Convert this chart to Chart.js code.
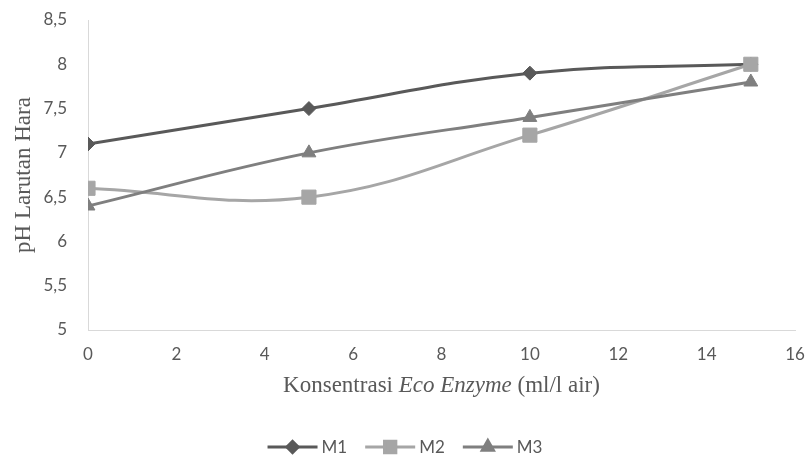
<!DOCTYPE html>
<html>
<head>
<meta charset="utf-8">
<script src="https://cdn.jsdelivr.net/npm/chart.js@4/dist/chart.umd.min.js"></script>
<style>
  html, body { margin: 0; padding: 0; background: #ffffff; }
  #wrap { width: 810px; height: 459px; position: relative; }
</style>
</head>
<body>
<div id="wrap"><canvas id="c" width="810" height="459"></canvas></div>
<script>
// Eco enzyme concentration (ml/l air) and nutrient-solution pH per treatment
const concentrations = [0, 5, 10, 15];
const m1 = [7.1, 7.5, 7.9, 8.0];
const m2 = [6.6, 6.5, 7.2, 8.0];
const m3 = [6.4, 7.0, 7.4, 7.8];
const seriesNames = ['M1', 'M2', 'M3'];

// x-axis title pieces: plain, italic, plain
const xTitleParts = [
  { text: 'Konsentrasi ', italic: false },
  { text: 'Eco Enzyme', italic: true },
  { text: ' (ml/l air)', italic: false }
];
const yTitle = 'pH Larutan Hara';

const colors = ['#595959', '#a6a6a6', '#7f7f7f'];
const pointStyles = ['rectRot', 'rect', 'triangle'];
const pointRadii = [7, 10, 8];

const toPoints = vals => concentrations.map((c, i) => ({ x: c, y: vals[i] }));
const commaNum = v => String(v).replace('.', ',');

const tickFont = { family: 'Lato, "Liberation Sans", sans-serif', size: 17 };
const serif = '"Liberation Serif", "Times New Roman", serif';
const titleSize = 23;

// Axis-title drawing with mixed upright/italic runs
const axisTitles = {
  id: 'axisTitles',
  afterDraw(chart) {
    const ctx = chart.ctx;
    const area = chart.chartArea;
    ctx.save();
    ctx.fillStyle = '#595959';
    ctx.textBaseline = 'middle';
    ctx.textAlign = 'left';
    // x title, centred under the plot
    const fontFor = p => (p.italic ? 'italic ' : '') + titleSize + 'px ' + serif;
    let total = 0;
    xTitleParts.forEach(p => { ctx.font = fontFor(p); total += ctx.measureText(p.text).width; });
    let x = (area.left + area.right) / 2 - total / 2;
    const y = 386;
    xTitleParts.forEach(p => {
      ctx.font = fontFor(p);
      ctx.fillText(p.text, x, y);
      x += ctx.measureText(p.text).width;
    });
    // y title, rotated, centred beside the plot
    ctx.font = titleSize + 'px ' + serif;
    ctx.translate(24, (area.top + area.bottom) / 2);
    ctx.rotate(-Math.PI / 2);
    ctx.textAlign = 'center';
    ctx.fillText(yTitle, 0, 0);
    ctx.restore();
  }
};

// Excel-style legend: short line with the marker in the middle, then the name
const lineLegend = {
  id: 'lineLegend',
  afterDraw(chart) {
    const ctx = chart.ctx;
    const y = 447;
    const lineLen = 50, textGap = 4, itemGap = 18;
    ctx.save();
    ctx.font = '17px Lato, "Liberation Sans", sans-serif';
    const widths = chart.data.datasets.map(d => lineLen + textGap + ctx.measureText(d.label).width);
    const total = widths.reduce((a, b) => a + b, 0) + itemGap * (widths.length - 1);
    let x = chart.width / 2 - total / 2;
    chart.data.datasets.forEach((d, i) => {
      ctx.strokeStyle = d.borderColor;
      ctx.lineWidth = 3;
      ctx.beginPath();
      ctx.moveTo(x, y);
      ctx.lineTo(x + lineLen, y);
      ctx.stroke();
      ctx.fillStyle = d.pointBackgroundColor;
      ctx.strokeStyle = d.pointBorderColor;
      Chart.helpers.drawPoint(ctx, {
        pointStyle: d.pointStyle,
        radius: d.pointRadius * 0.8,
        borderWidth: 1,
        rotation: 0
      }, x + lineLen / 2, y);
      ctx.fillStyle = '#595959';
      ctx.textAlign = 'left';
      ctx.textBaseline = 'middle';
      ctx.fillText(d.label, x + lineLen + textGap, y + 1);
      x += widths[i] + itemGap;
    });
    ctx.restore();
  }
};

const seriesValues = [m1, m2, m3];
const datasets = seriesValues.map((vals, i) => ({
  label: seriesNames[i],
  data: toPoints(vals),
  // later series are painted over earlier ones
  order: seriesValues.length - i,
  borderColor: colors[i],
  backgroundColor: colors[i],
  pointBackgroundColor: colors[i],
  pointBorderColor: colors[i],
  pointStyle: pointStyles[i],
  pointRadius: pointRadii[i],
  pointHoverRadius: pointRadii[i],
  pointBorderWidth: 1,
  borderWidth: 3,
  tension: 0.4,
  fill: false
}));

new Chart(document.getElementById('c'), {
  type: 'line',
  data: { datasets },
  plugins: [axisTitles, lineLegend],
  options: {
    responsive: false,
    animation: false,
    layout: { padding: { top: 20, right: 15, bottom: 54, left: 0 } },
    plugins: {
      legend: { display: false },
      tooltip: { enabled: false }
    },
    scales: {
      x: {
        type: 'linear',
        min: 0,
        max: 16,
        ticks: { stepSize: 2, color: '#595959', font: tickFont, padding: 14, maxRotation: 0 },
        grid: { display: false, drawTicks: false },
        border: { display: true, color: '#d9d9d9', width: 1 },
        afterFit(scale) { scale.height = 75; scale.paddingLeft = 0; scale.paddingRight = 0; }
      },
      y: {
        min: 5,
        max: 8.5,
        ticks: { stepSize: 0.5, color: '#595959', font: tickFont, padding: 21, callback: v => commaNum(v) },
        grid: { display: false, drawTicks: false },
        border: { display: true, color: '#d9d9d9', width: 1 },
        afterFit(scale) { scale.width = 88; scale.paddingTop = 0; scale.paddingBottom = 0; }
      }
    }
  }
});
</script>
</body>
</html>
